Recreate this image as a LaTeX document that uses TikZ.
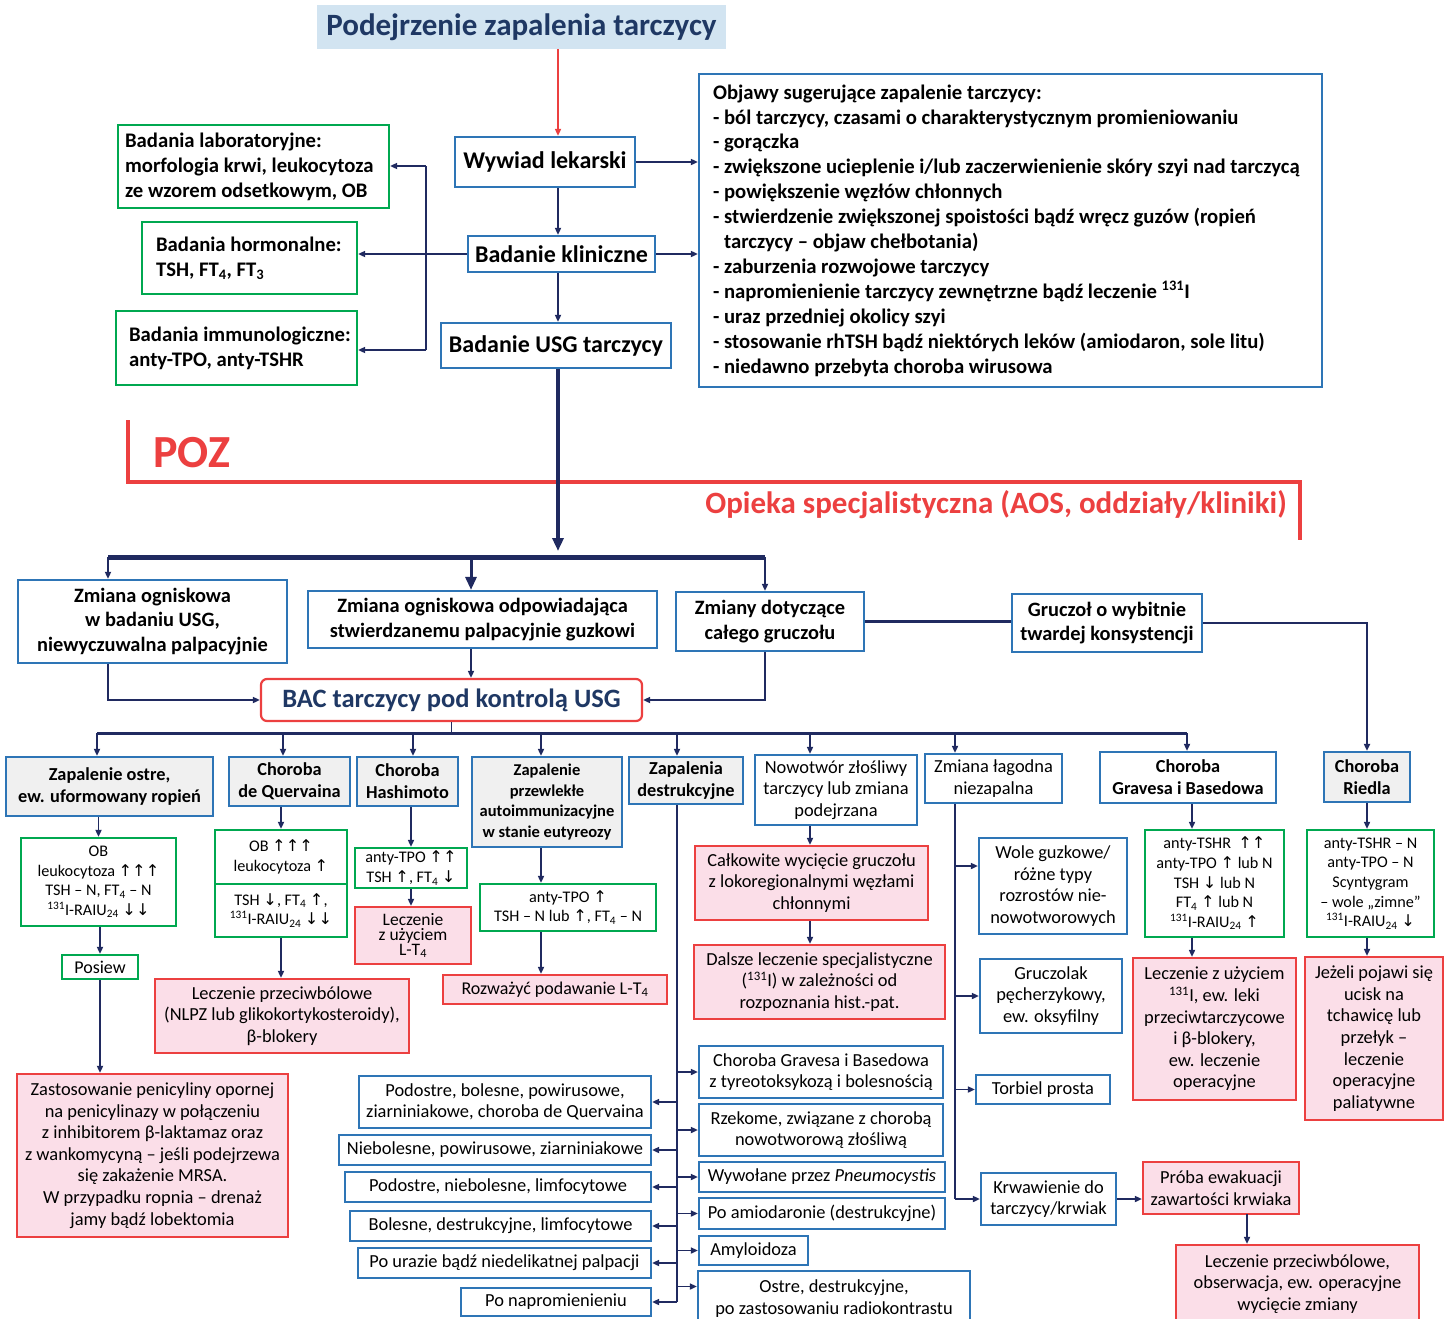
\documentclass[tikz,border=0pt]{standalone}
\usepackage{fontspec}
\setmainfont{Carlito}
\newfontfamily\arrfont{DejaVu Sans}
\usetikzlibrary{arrows.meta}
\newcommand\upar{{\arrfont ↑}}
\newcommand\dnar{{\arrfont ↓}}
\definecolor{cblue}{RGB}{46,117,182}
\definecolor{cgreen}{RGB}{0,168,80}
\definecolor{cred}{RGB}{236,64,64}
\definecolor{cpink}{RGB}{251,222,232}
\definecolor{cgray}{RGB}{240,240,240}
\definecolor{cnavy}{RGB}{32,42,96}
\definecolor{ctitle}{RGB}{31,56,100}
\definecolor{ctitlebg}{RGB}{210,228,241}
\tikzset{
  spot/.style n args={4}{at={({(#1+#3)/2},{(#2+#4)/2})},
     minimum width={(#3-#1)*1pt}, minimum height={(#4-#2)*1pt}},
  base/.style={line width=2.2pt, align=center, inner sep=1pt, text=black},
  bluebox/.style={base, draw=cblue, fill=white},
  graybox/.style={base, draw=cblue, fill=cgray},
  greenbox/.style={base, draw=cgreen, fill=white},
  pinkbox/.style={base, draw=cred, fill=cpink},
  link/.style={draw=cnavy, line width=1.6pt},
  arr/.style={link, -{Triangle[length=7pt,width=6pt]}},
  bigarr/.style={draw=cnavy, line width=3.5pt, -{Triangle[length=13pt,width=11pt]}},
  t15/.style={font=\fontsize{16.2}{19.6}\selectfont},
  t16/.style={font=\fontsize{18}{20}\selectfont},
  t17/.style={font=\fontsize{18.4}{21.6}\selectfont},
  b15/.style={font=\bfseries\fontsize{16.5}{20.6}\selectfont},
  b17/.style={font=\bfseries\fontsize{18.3}{22}\selectfont},
  b185/.style={font=\bfseries\fontsize{20.4}{24.5}\selectfont},
  b19/.style={font=\bfseries\fontsize{20.7}{24.9}\selectfont},
  b22/.style={font=\bfseries\fontsize{24}{28}\selectfont},
}
\begin{document}
\begin{tikzpicture}[x=1pt,y=-1pt]
\useasboundingbox (0,0) rectangle (1453,1318);
\clip (0,0) rectangle (1453,1318);

% ---------- top part ----------
\node[fill=ctitlebg, minimum width=409pt, minimum height=44pt, text=ctitle,
      font=\bfseries\fontsize{31}{34}\selectfont, inner sep=0] (title) at (521.5,27) {Podejrzenie zapalenia tarczycy};

\node[bluebox,b22,spot={455}{137}{635}{187}] (wyw) {Wywiad lekarski};
\node[bluebox,b22,spot={468}{236}{655}{272}] (kl) {Badanie kliniczne};
\node[bluebox,b22,spot={441}{323}{671}{368}] (usg) {Badanie USG tarczycy};

\node[bluebox,spot={699}{74}{1322}{387}] (obj) {};
\node[b19,anchor=west,align=left,inner sep=0] (objtxt) at ([xshift=15pt]obj.west)
 {Objawy sugerujące zapalenie tarczycy:\\
  - ból tarczycy, czasami o charakterystycznym promieniowaniu\\
  - gorączka\\
  - zwiększone ucieplenie i/lub zaczerwienienie skóry szyi nad tarczycą\\
  - powiększenie węzłów chłonnych\\
  - stwierdzenie zwiększonej spoistości bądź wręcz guzów (ropień\\
  \phantom{- }tarczycy – objaw chełbotania)\\
  - zaburzenia rozwojowe tarczycy\\
  - napromienienie tarczycy zewnętrzne bądź leczenie \textsuperscript{131}I\\
  - uraz przedniej okolicy szyi\\
  - stosowanie rhTSH bądź niektórych leków (amiodaron, sole litu)\\
  - niedawno przebyta choroba wirusowa};

\node[greenbox,spot={118}{125}{389}{208}] (lab) {};
\node[b19,anchor=west,align=left,inner sep=0] (labtxt) at ([xshift=8pt]lab.west)
 {Badania laboratoryjne:\\morfologia krwi, leukocytoza\\ze wzorem odsetkowym, OB};
\node[greenbox,spot={142}{222}{357}{294}] (horm) {};
\node[b19,anchor=west,align=left,inner sep=0] (hormtxt) at ([xshift=15pt]horm.west)
 {Badania hormonalne:\\TSH, FT\textsubscript{4}, FT\textsubscript{3}};
\node[greenbox,spot={116}{311}{357}{385}] (imm) {};
\node[b19,anchor=west,align=left,inner sep=0] (immtxt) at ([xshift=14pt]imm.west)
 {Badania immunologiczne:\\anty-TPO, anty-TSHR};

% spine of the upper part
\coordinate (sp) at (558,0);
\draw[arr, draw=cred] (title.south -| sp) -- (wyw.north -| sp);
\draw[arr] (wyw.south -| sp) -- (kl.north -| sp);
\draw[arr] (kl.south -| sp) -- (usg.north -| sp);
\draw[arr] (wyw.east) -- (wyw.east -| obj.west);
\draw[arr] (kl.east) -- (kl.east -| obj.west);
\draw[arr] (kl.west) -- (kl.west -| horm.east);
\coordinate (jt) at (426,166);
\coordinate (jb) at (426,350);
\draw[link] (jt) -- (jb);
\draw[arr] (jt) -- (jt -| lab.east);
\draw[arr] (jb) -- (jb -| imm.east);

% ---------- POZ / specialist care border ----------
\draw[cred, line width=3.5pt] (128,420) -- (128,482) -- (1300,482) -- (1300,540);
\node[text=cred, font=\bfseries\fontsize{46}{50}\selectfont, anchor=west, inner sep=0] (poz) at (153,453) {POZ};
\node[text=cred, font=\bfseries\fontsize{31}{34}\selectfont, anchor=east, inner sep=0] (aos) at (1287,505)
 {Opieka specjalistyczna (AOS, oddziały/kliniki)};

\coordinate (usgtip) at (558,551);
\draw[bigarr] (usg.south -| sp) -- (usgtip);
\coordinate (barL) at (108,557);
\coordinate (barM) at (471,557);
\coordinate (barR) at (765,557);
\draw[draw=cnavy, line width=5pt] (barL) -- (barR);

% ---------- second row ----------
\node[bluebox,b185,spot={18}{580}{287}{663}] (A) {Zmiana ogniskowa\\w badaniu USG,\\niewyczuwalna palpacyjnie};
\node[bluebox,b185,spot={308}{591}{657}{648}] (B) {Zmiana ogniskowa odpowiadająca\\stwierdzanemu palpacyjnie guzkowi};
\node[bluebox,b185,spot={676}{592}{864}{651}] (C) {Zmiany dotyczące\\całego gruczołu};
\node[bluebox,b185,spot={1012}{594}{1202}{652}] (D) {Gruczoł o wybitnie\\twardej konsystencji};
\node[base, draw=cred, fill=white, rounded corners=6pt, text=ctitle,
      font=\bfseries\fontsize{26.5}{30}\selectfont, spot={261}{679}{642}{721}] (bac) {BAC tarczycy pod kontrolą USG};

\draw[arr] (barL) -- (barL |- A.north);
\draw[bigarr, line width=3pt] (barM) -- (barM |- B.north);
\draw[arr] (barR) -- (barR |- C.north);
\draw[arr] (A.south -| barL) |- (bac.west);
\draw[arr] (B.south -| barM) -- (bac.north -| barM);
\draw[arr] (C.south -| barR) |- (bac.east);
\draw[link, line width=2.6pt] (C.east) -- (C.east -| D.west);

% ---------- third row ----------
\node[graybox,b17,spot={6}{757}{213}{816}] (r1) {Zapalenie ostre,\\ew. uformowany ropień};
\node[graybox,b17,spot={229}{757}{350}{806}] (r2) {Choroba\\de Quervaina};
\node[graybox,b17,spot={357}{757}{458}{806}] (r3) {Choroba\\Hashimoto};
\node[graybox,b15,spot={472}{757}{622}{847}] (r4) {Zapalenie\\przewlekłe\\autoimmunizacyjne\\w stanie eutyreozy};
\node[graybox,b17,spot={629}{757}{743}{804}] (r5) {Zapalenia\\destrukcyjne};
\node[bluebox,t17,spot={755}{755}{917}{825}] (r6) {Nowotwór złośliwy\\tarczycy lub zmiana\\podejrzana};
\node[bluebox,t17,spot={925}{754}{1062}{803}] (r7) {Zmiana łagodna\\niezapalna};
\node[bluebox,b17,spot={1100}{752}{1276}{803}] (r8) {Choroba\\Gravesa i Basedowa};
\node[graybox,b17,spot={1324}{752}{1410}{802}] (r9) {Choroba\\Riedla};

\draw[arr, line width=2.2pt] (D.east) -| (r9.north);

\coordinate (bar2L) at (97,733);
\coordinate (bar2R) at (1187,733);
\draw[link] (bac.south) -- (bac.south |- bar2L);
\draw[draw=cnavy, line width=3pt] (bar2L) -- (bar2R);
\coordinate (k2) at (283,733);
\coordinate (k3) at (413,733);
\coordinate (k4) at (541,733);
\coordinate (k5) at (677,733);
\coordinate (k6) at (810,733);
\coordinate (k7) at (955,733);
\draw[arr] (bar2L) -- (bar2L |- r1.north);
\draw[arr] (k2) -- (k2 |- r2.north);
\draw[arr] (k3) -- (k3 |- r3.north);
\draw[arr] (k4) -- (k4 |- r4.north);
\draw[arr] (k5) -- (k5 |- r5.north);
\draw[arr] (k6) -- (k6 |- r6.north);
\draw[arr] (k7) -- (k7 |- r7.north);
\draw[arr] (bar2R) -- (bar2R |- r8.north);

% column: acute thyroiditis
\node[greenbox,t15,spot={21}{838}{176}{926}] (g1) {OB\\leukocytoza \upar\upar\upar\\TSH – N, FT\textsubscript{4} – N\\\textsuperscript{131}I-RAIU\textsubscript{24} \dnar\dnar};
\node[greenbox,t16,spot={62}{955}{138}{979}] (posiew) {Posiew};
\node[pinkbox,t17,spot={17}{1074}{288}{1237}] (zast) {Zastosowanie penicyliny opornej\\na penicylinazy w połączeniu\\z inhibitorem β-laktamaz oraz\\z wankomycyną – jeśli podejrzewa\\się zakażenie MRSA.\\W przypadku ropnia – drenaż\\jamy bądź lobektomia};
\draw[arr] (r1.south -| g1.north) -- (g1.north);
\draw[arr] (g1.south -| posiew.north) -- (posiew.north);
\draw[arr] (posiew.south) -- (posiew.south |- zast.north);

% column: de Quervain
\node[greenbox,t15,spot={215}{830}{347}{884}] (g2a) {OB \upar\upar\upar\\leukocytoza \upar};
\node[greenbox,t15,spot={215}{884}{347}{937}] (g2b) {TSH \dnar, FT\textsubscript{4} \upar,\\\textsuperscript{131}I-RAIU\textsubscript{24} \dnar\dnar};
\node[pinkbox,t17,spot={155}{979}{409}{1053}] (lec2) {Leczenie przeciwbólowe\\(NLPZ lub glikokortykosteroidy),\\β-blokery};
\draw[arr] (r2.south -| g2a.north) -- (g2a.north);
\draw[arr] (g2b.south) -- (g2b.south |- lec2.north);

% column: Hashimoto
\node[greenbox,t15,spot={355}{848}{467}{888}] (g3) {anty-TPO \upar\upar\\TSH \upar, FT\textsubscript{4} \dnar};
\node[pinkbox,font=\fontsize{17.5}{15}\selectfont,spot={355}{907}{471}{964}] (lt4) {Leczenie\\z użyciem\\L-T\textsubscript{4}};
\draw[arr] (r3.south -| g3.north) -- (g3.north);
\draw[arr] (g3.south) -- (g3.south |- lt4.north);

% column: chronic autoimmune, euthyroid
\node[greenbox,t15,spot={480}{884}{656}{931}] (g4) {anty-TPO \upar\\TSH – N lub \upar, FT\textsubscript{4} – N};
\node[pinkbox,t16,spot={443}{975}{667}{1004}] (roz) {Rozważyć podawanie L-T\textsubscript{4}};
\draw[arr] (r4.south -| k4) -- (g4.north -| k4);
\draw[arr] (g4.south -| k4) -- (roz.north -| k4);

% column: destructive thyroiditis
\node[bluebox,t17,spot={359}{1076}{651}{1128}] (L1) {Podostre, bolesne, powirusowe,\\ziarniniakowe, choroba de Quervaina};
\node[bluebox,t17,spot={339}{1135}{651}{1165}] (L2) {Niebolesne, powirusowe, ziarniniakowe};
\node[bluebox,t17,spot={345}{1172}{651}{1202}] (L3) {Podostre, niebolesne, limfocytowe};
\node[bluebox,t17,spot={350}{1211}{651}{1241}] (L4) {Bolesne, destrukcyjne, limfocytowe};
\node[bluebox,t17,spot={358}{1248}{651}{1278}] (L5) {Po urazie bądź niedelikatnej palpacji};
\node[bluebox,t17,spot={461}{1288}{651}{1316}] (L6) {Po napromienieniu};
\node[bluebox,t17,spot={699}{1046}{943}{1098}] (R1) {Choroba Gravesa i Basedowa\\z tyreotoksykozą i bolesnością};
\node[bluebox,t17,spot={699}{1104}{943}{1156}] (R2) {Rzekome, związane z chorobą\\nowotworową złośliwą};
\node[bluebox,t17,spot={699}{1162}{945}{1192}] (R3) {Wywołane przez \textit{Pneumocystis}};
\node[bluebox,t17,spot={699}{1198}{945}{1229}] (R4) {Po amiodaronie (destrukcyjne)};
\node[bluebox,t17,spot={699}{1236}{808}{1265}] (R5) {Amyloidoza};
\node[bluebox,t17,spot={698}{1271}{970}{1326}] (R6) {Ostre, destrukcyjne,\\po zastosowaniu radiokontrastu};
\draw[link] (r5.south -| k5) -- (L6.east -| k5);
\foreach \n in {L1,L2,L3,L4,L5,L6} \draw[arr] (\n.east -| k5) -- (\n.east);
\foreach \n in {R1,R2,R3,R4,R5} \draw[arr] (\n.west -| k5) -- (\n.west);
\coordinate (r6a) at ([yshift=12pt]R6.west);
\draw[arr] (r6a -| k5) -- (r6a);

% column: malignancy
\node[pinkbox,t17,spot={695}{846}{928}{920}] (cal) {Całkowite wycięcie gruczołu\\z lokoregionalnymi węzłami\\chłonnymi};
\node[pinkbox,t17,spot={694}{945}{945}{1019}] (dal) {Dalsze leczenie specjalistyczne\\(\textsuperscript{131}I) w zależności od\\rozpoznania hist.-pat.};
\draw[arr] (r6.south -| k6) -- (cal.north -| k6);
\draw[arr] (cal.south -| k6) -- (dal.north -| k6);

% column: benign non-inflammatory
\node[bluebox,t17,spot={979}{838}{1127}{934}] (wole) {Wole guzkowe/\\różne typy\\rozrostów nie-\\nowotworowych};
\node[bluebox,t17,spot={980}{959}{1122}{1033}] (gru) {Gruczolak\\pęcherzykowy,\\ew. oksyfilny};
\node[bluebox,t17,spot={976}{1075}{1110}{1104}] (tor) {Torbiel prosta};
\node[bluebox,t17,spot={981}{1173}{1116}{1225}] (krw) {Krwawienie do\\tarczycy/krwiak};
\node[pinkbox,t17,spot={1143}{1162}{1299}{1214}] (pro) {Próba ewakuacji\\zawartości krwiaka};
\node[pinkbox,t17,spot={1176}{1245}{1419}{1323}] (lk) {Leczenie przeciwbólowe,\\obserwacja, ew. operacyjne\\wycięcie zmiany};
\coordinate (wa) at ([yshift=20pt]wole.west);
\draw[link] (r7.south -| k7) -- (krw.west -| k7);
\draw[arr] (wa -| k7) -- (wa);
\draw[arr] (gru.west -| k7) -- (gru.west);
\draw[arr] (tor.west -| k7) -- (tor.west);
\draw[arr] (krw.west -| k7) -- (krw.west);
\draw[arr] (krw.east) -- (krw.east -| pro.west);
\coordinate (pa) at (1247,1214);
\draw[arr] (pa) -- (pa |- lk.north);

% column: Graves-Basedow
\node[greenbox,t15,spot={1145}{830}{1284}{937}] (g8) {anty-TSHR \ \upar\upar\\anty-TPO \upar{} lub N\\TSH \dnar{} lub N\\FT\textsubscript{4} \upar{} lub N\\\textsuperscript{131}I-RAIU\textsubscript{24} \upar};
\node[pinkbox,t17,spot={1133}{958}{1296}{1100}] (l8) {Leczenie z użyciem\\\textsuperscript{131}I, ew. leki\\przeciwtarczycowe\\i β-blokery,\\ew. leczenie\\operacyjne};
\coordinate (c8) at (1192,0);
\draw[arr] (r8.south -| c8) -- (g8.north -| c8);
\draw[arr] (g8.south -| c8) -- (l8.north -| c8);

% column: Riedel
\node[greenbox,t15,spot={1307}{830}{1434}{937}] (g9) {anty-TSHR – N\\anty-TPO – N\\Scyntygram\\– wole „zimne”\\\textsuperscript{131}I-RAIU\textsubscript{24} \dnar};
\node[pinkbox,t17,spot={1305}{957}{1443}{1120}] (l9) {Jeżeli pojawi się\\ucisk na\\tchawicę lub\\przełyk –\\leczenie\\operacyjne\\paliatywne};
\draw[arr] (r9.south) -- (r9.south |- g9.north);
\draw[arr] (g9.south -| r9.south) -- (l9.north -| r9.south);
\end{tikzpicture}
\end{document}
